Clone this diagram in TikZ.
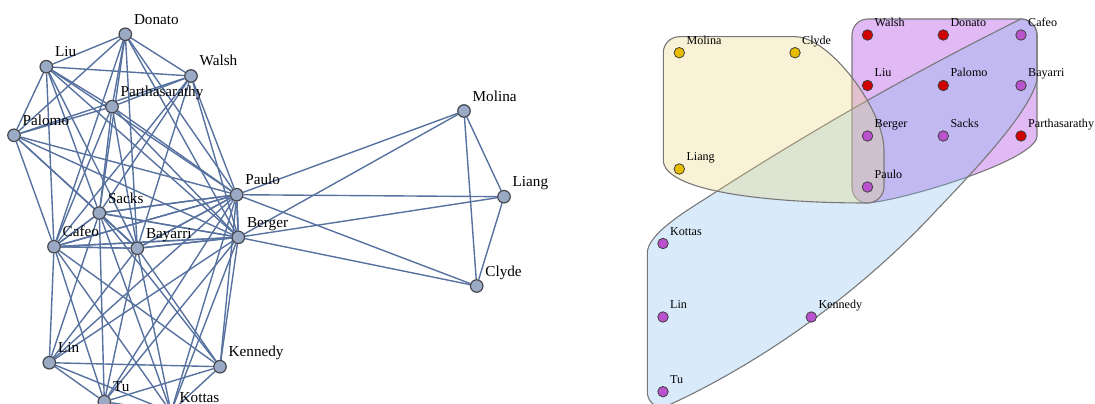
\documentclass[tikz,border=0pt]{standalone}
\usepackage{fontspec}
\setmainfont{Liberation Serif}
\usetikzlibrary{backgrounds}
\definecolor{edgecol}{RGB}{88,114,160}
\definecolor{gnodefill}{RGB}{155,170,196}
\definecolor{gnodeborder}{RGB}{70,72,78}
\definecolor{hullline}{RGB}{120,120,120}
\definecolor{setyellow}{RGB}{235,212,118}
\definecolor{setpurple}{RGB}{152,22,222}
\definecolor{setblue}{RGB}{128,188,238}
\definecolor{vyellow}{RGB}{232,188,0}
\definecolor{vred}{RGB}{210,0,0}
\definecolor{vmag}{RGB}{186,82,206}
\tikzset{
  gnode/.style={circle, draw=gnodeborder, fill=gnodefill, line width=1.2pt, minimum size=12.5pt, inner sep=0pt},
  glbl/.style={anchor=base west, inner sep=0pt, font=\fontsize{15.2}{17}\selectfont},
  gedge/.style={draw=edgecol, line width=1.4pt},
  snode/.style={circle, draw=black!75, line width=0.8pt, minimum size=10.5pt, inner sep=0pt},
  slbl/.style={anchor=base west, inner sep=0pt, font=\fontsize{12.1}{14}\selectfont},
  hull/.style={draw=hullline, line width=1.1pt, fill opacity=0.3},
}
\newcommand{\gv}[3]{\node[gnode] (g#1) at (#2,#3) {};
  \node[glbl] (g#1-t) at ([shift={(8.5,-10)}]g#1.center) {#1};}
\newcommand{\sv}[4]{\node[snode, fill=#4] (s#1) at (#2,#3) {};
  \node[slbl] (s#1-t) at ([shift={(7,-8.5)}]s#1.center) {#1};}
\newcommand{\cliq}[1]{\foreach \a [count=\i] in {#1} {\foreach \b [count=\j] in {#1} {\ifnum\j>\i \draw[gedge] (g\a) -- (g\b);\fi}}}
\begin{document}
\begin{tikzpicture}[x=1pt, y=-1pt]
\useasboundingbox (0,0) rectangle (1095,404);
% ---------- left graph ----------
\gv{Donato}{125.3}{34.3}
\gv{Liu}{46.3}{66.7}
\gv{Walsh}{191}{76}
\gv{Parthasarathy}{112}{106.7}
\gv{Palomo}{14}{135.3}
\gv{Paulo}{236.7}{194.7}
\gv{Sacks}{99.3}{213}
\gv{Berger}{238.3}{237.3}
\gv{Cafeo}{54}{246.7}
\gv{Bayarri}{137.3}{248.3}
\gv{Lin}{49.3}{362.7}
\gv{Kennedy}{220}{366.7}
\gv{Tu}{104.3}{401.7}
\gv{Kottas}{171}{412}
\gv{Molina}{464}{111}
\gv{Liang}{504}{196.7}
\gv{Clyde}{476.7}{286}
\begin{pgfonlayer}{background}
\cliq{Molina,Clyde,Liang,Berger,Paulo}
\cliq{Walsh,Donato,Cafeo,Liu,Palomo,Bayarri,Berger,Sacks,Parthasarathy,Paulo}
\cliq{Cafeo,Bayarri,Berger,Sacks,Paulo,Kottas,Lin,Kennedy,Tu}
\end{pgfonlayer}
% ---------- right: set diagram ----------
\path[hull, fill=setpurple]
  (852,35) .. controls (852,26.2) and (858.9,19) .. (867.7,19)
  -- (1021,19) .. controls (1029.8,19) and (1037,26.2) .. (1037,35)
  -- (1037,136) .. controls (1037,160) and (905,200) .. (867.3,203)
  .. controls (858.5,203) and (852,195.8) .. (852,187) -- cycle;
\path[hull, fill=setblue]
  (1021,19) .. controls (1029.8,19) and (1037,26.2) .. (1037,35)
  -- (1037,80) .. controls (1030,112) and (975,170) .. (936.7,210)
  .. controls (876.7,275) and (780,355) .. (663,407.7)
  .. controls (654.2,407.7) and (647.3,400.5) .. (647.3,391.7)
  -- (647.3,253) .. controls (647.3,235) and (683.3,212.6) .. (703.3,200)
  .. controls (809,131.7) and (915,71.3) .. (1021,19) -- cycle;
\path[hull, fill=setyellow]
  (663.3,52.7) .. controls (663.3,43.9) and (670.5,36.7) .. (679.3,36.7)
  -- (795,36.7) .. controls (830,36.7) and (884,110) .. (884,150)
  -- (884,187) .. controls (884,195.8) and (876.1,203) .. (867.3,203)
  .. controls (760,203) and (663.3,190) .. (663.3,160) -- cycle;
\sv{Molina}{679.3}{52.7}{vyellow}
\sv{Clyde}{795}{52.7}{vyellow}
\sv{Liang}{679.3}{169}{vyellow}
\sv{Walsh}{867.5}{35}{vred}
\sv{Donato}{943.3}{35}{vred}
\sv{Cafeo}{1021}{35}{vmag}
\sv{Liu}{867.5}{85.5}{vred}
\sv{Palomo}{943.3}{85.5}{vred}
\sv{Bayarri}{1021}{85.5}{vmag}
\sv{Berger}{867.5}{136}{vmag}
\sv{Sacks}{943.3}{136}{vmag}
\sv{Parthasarathy}{1021}{136}{vred}
\sv{Paulo}{867.5}{187}{vmag}
\sv{Kottas}{663}{243.5}{vmag}
\sv{Lin}{663}{317}{vmag}
\sv{Kennedy}{811.3}{317}{vmag}
\sv{Tu}{663}{391.7}{vmag}
\end{tikzpicture}
\end{document}
